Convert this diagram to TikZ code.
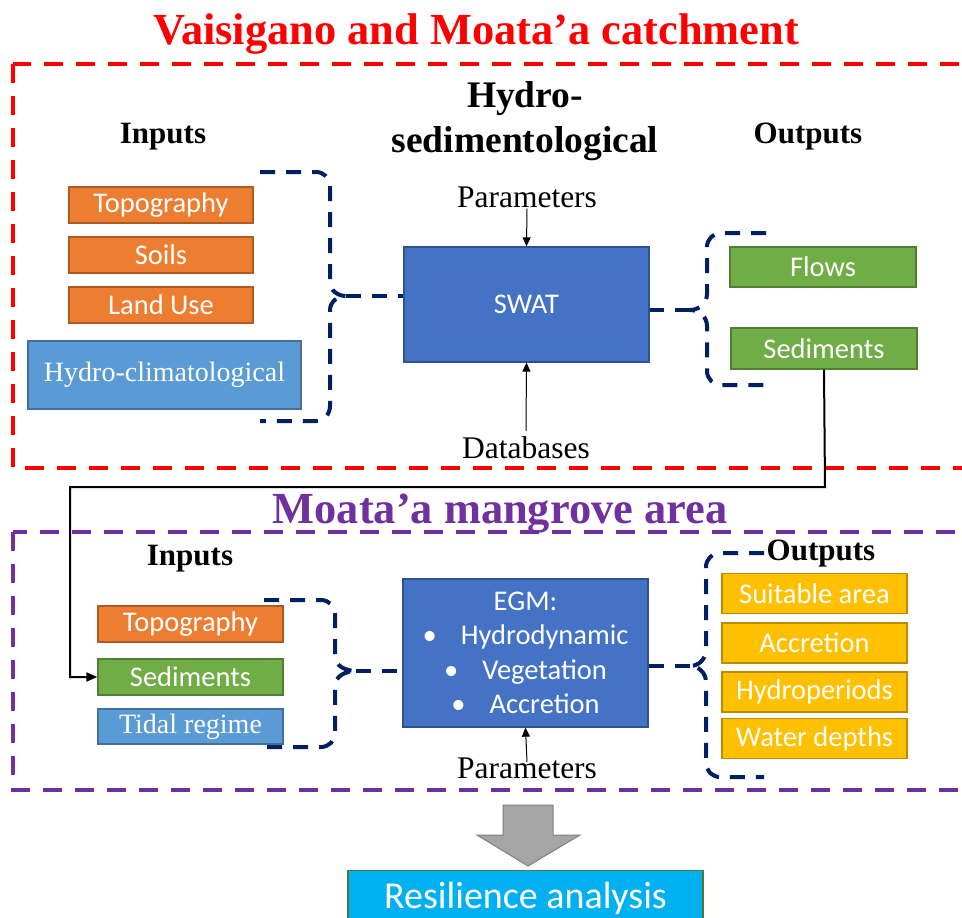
\documentclass[tikz,border=0pt]{standalone}
\usepackage{fontspec}
\setmainfont{Liberation Serif}
\newfontfamily\calib{Carlito}
\usetikzlibrary{arrows.meta,calc}
\definecolor{orfill}{HTML}{ED7D31}
\definecolor{ordraw}{HTML}{AE5A21}
\definecolor{grfill}{HTML}{70AD47}
\definecolor{grdraw}{HTML}{507E32}
\definecolor{lbfill}{HTML}{5B9BD5}
\definecolor{lbdraw}{HTML}{41719C}
\definecolor{dbfill}{HTML}{4472C4}
\definecolor{dbdraw}{HTML}{2F528F}
\definecolor{yefill}{HTML}{FFC000}
\definecolor{yedraw}{HTML}{BC8C00}
\definecolor{cyfill}{HTML}{00B0F0}
\definecolor{cydraw}{HTML}{4E7A32}
\definecolor{navyline}{HTML}{002060}
\definecolor{purp}{HTML}{7030A0}
\definecolor{gyfill}{HTML}{A5A5A5}
\definecolor{gydraw}{HTML}{7F7F7F}
\begin{document}
\begin{tikzpicture}[x=1pt,y=-1pt,
  box/.style={draw, line width=1.3pt, text=white, inner sep=0pt, align=center,
    font=\calib\fontsize{28.5}{34.5}\selectfont},
  serifbox/.style={box, font=\fontsize{28}{34}\selectfont},
  orbox/.style={box, fill=orfill, draw=ordraw, minimum width=184pt, minimum height=36pt},
  grbox/.style={box, fill=grfill, draw=grdraw},
  yebox/.style={box, fill=yefill, draw=yedraw, minimum width=185pt, minimum height=40pt},
  bigtitle/.style={anchor=base, font=\fontsize{44.4}{53}\selectfont\bfseries},
  heading/.style={anchor=base, font=\fontsize{31}{37}\selectfont\bfseries},
  plain/.style={anchor=base, inner sep=1pt, font=\fontsize{31.5}{37}\selectfont},
  bracepath/.style={draw=navyline, line width=4pt, dash pattern=on 15pt off 11pt},
  redframe/.style={draw=red, line width=4pt, dash pattern=on 19pt off 13pt},
  purpframe/.style={draw=purp, line width=4pt, dash pattern=on 19pt off 13pt},
  thinarrow/.style={draw=black, line width=1pt, -{Triangle[length=9pt,width=8pt]}},
]
\useasboundingbox (0,0) rectangle (962,918);
\clip (0,0) rectangle (962,918);
\fill[white] (0,0) rectangle (962,918);

% frames
\draw[redframe] (13,64) rectangle (978,468);
\draw[purpframe] (13,532) rectangle (978,790);

% titles
\node[bigtitle, text=red] (t1) at (476,45) {Vaisigano and Moata’a catchment};
\node[bigtitle, text=purp] (t2) at (500,523) {Moata’a mangrove area};

% ---------- upper section ----------
\node[anchor=base, font=\fontsize{37.5}{45}\selectfont\bfseries] (hs1) at (525,107) {Hydro-};
\node[anchor=base, font=\fontsize{37.5}{45}\selectfont\bfseries] (hs2) at (525,152) {sedimentological};
\node[heading] (in1) at (163,143) {Inputs};
\node[heading] (out1) at (808,143) {Outputs};

\node[orbox] (topo1) at (161,205) {Topography};
\node[orbox] (soils) at (161,255) {Soils};
\node[orbox] (land) at (161,305) {Land Use};
\node[serifbox, fill=lbfill, draw=lbdraw, minimum width=273pt, minimum height=68pt] (hc) at (164.5,375) {Hydro-climatological};

\node[box, fill=dbfill, draw=dbdraw, minimum width=245pt, minimum height=115pt] (swat) at (526.5,304.5) {SWAT};

\node[grbox, minimum width=186pt, minimum height=40pt] (flows) at (823,267) {Flows};
\node[grbox, minimum width=186pt, minimum height=41pt] (sed1) at (824,348.5) {Sediments};

\node[plain] (par1) at (527,207) {Parameters};
\node[plain] (db) at (526,458) {Databases};
\draw[thinarrow] (par1.south) -- (swat.north);
\draw[thinarrow] ($(db.north)+(0,-4)$) -- (swat.south);

% braces upper
\coordinate (b1a) at (260,172);
\coordinate (b1tip) at (346,296);
\coordinate (b1b) at (260,421);
\draw[bracepath] (b1a) -- (316,172) to[out=0,in=90] (330,186) -- (330,282)
  to[out=-90,in=180] (b1tip) to[out=180,in=90] (330,310) -- (330,406)
  to[out=-90,in=0] (316,421) -- (b1b);
\draw[bracepath] (b1tip) -- (swat.west |- b1tip);

\coordinate (b2a) at (766,233);
\coordinate (b2tip) at (690,310);
\coordinate (b2b) at (766,385);
\draw[bracepath] (b2a) -- (721,233) to[out=180,in=90] (707,247) -- (707,294)
  to[out=-90,in=0] (b2tip) to[out=0,in=90] (707,326) -- (707,371)
  to[out=-90,in=180] (721,385) -- (b2b);
\draw[bracepath] (b2tip) -- (swat.east |- b2tip);

% ---------- lower section ----------
\node[heading] (in2) at (190,565) {Inputs};
\node[heading] (out2) at (821,560) {Outputs};

\node[orbox, minimum width=185pt] (topo2) at (190.5,624) {Topography};
\node[grbox, minimum width=185pt, minimum height=36pt] (sed2) at (190.5,677) {Sediments};
\node[serifbox, fill=lbfill, draw=lbdraw, minimum width=185pt, minimum height=35pt] (tidal) at (190.5,726.5) {Tidal regime};

\node[box, fill=dbfill, draw=dbdraw, minimum width=245pt, minimum height=148pt] (egm) at (525.5,653)
  {EGM:\\ •\hspace{24pt}Hydrodynamic\\ •\hspace{24pt}Vegetation\\ •\hspace{24pt}Accretion};

\node[yebox] (suit) at (814.5,593.5) {Suitable area};
\node[yebox] (accr) at (814.5,643) {Accretion};
\node[yebox] (hydp) at (814.5,692) {Hydroperiods};
\node[yebox] (wdep) at (814.5,738.5) {Water depths};

\node[plain] (par2) at (527,778) {Parameters};
\draw[thinarrow] ($(par2.north)+(0,6)$) -- (egm.south);

\coordinate (b3a) at (264,600);
\coordinate (b3tip) at (356,671);
\coordinate (b3b) at (264,747);
\draw[bracepath] (b3a) -- (321,600) to[out=0,in=90] (335,614) -- (335,656)
  to[out=-90,in=180] (b3tip) to[out=180,in=90] (335,686) -- (335,733)
  to[out=-90,in=0] (321,747) -- (b3b);
\draw[bracepath] (b3tip) -- (egm.west |- b3tip);

\coordinate (b4a) at (764,553);
\coordinate (b4tip) at (690,666);
\coordinate (b4b) at (764,777);
\draw[bracepath] (b4a) -- (720,553) to[out=180,in=90] (706,567) -- (706,650)
  to[out=-90,in=0] (b4tip) to[out=0,in=90] (706,682) -- (706,763)
  to[out=-90,in=180] (720,777) -- (b4b);
\draw[bracepath] (b4tip) -- (egm.east |- b4tip);

% sediments link
\coordinate (lk1) at (825,487);
\coordinate (lk2) at (70,487);
\draw[line width=2pt, -{Triangle[length=11pt,width=9pt]}] (sed1.south) -- (lk1) -- (lk2) |- (sed2.west);

% gray arrow and resilience
\draw[fill=gyfill, draw=gydraw, line width=1pt] (503,805) -- (553,805) -- (553,835) -- (580,835)
  -- (528,866) -- (477,835) -- (503,835) -- cycle;
\node[box, fill=cyfill, draw=cydraw, minimum width=355pt, minimum height=60pt, anchor=north,
  font=\calib\fontsize{38}{44}\selectfont] (res) at (525.5,870) {\raisebox{10pt}{Resilience analysis}};
\end{tikzpicture}
\end{document}
